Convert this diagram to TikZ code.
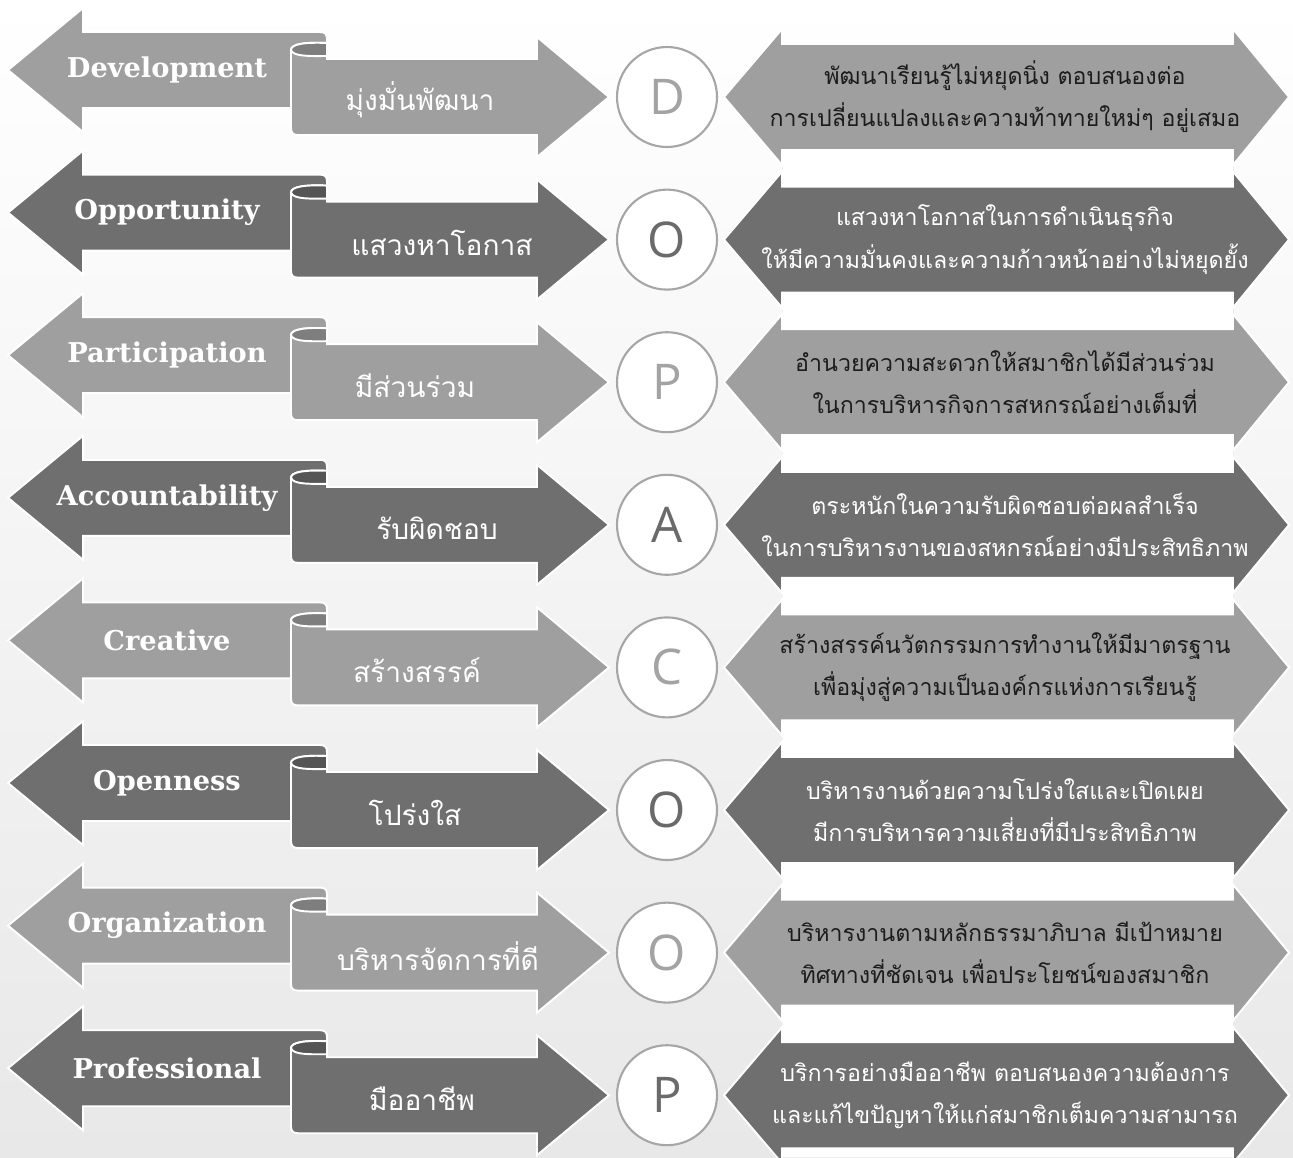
\documentclass[tikz,border=0pt]{standalone}
\usepackage{fontspec}
\newfontfamily\thaifont[Script=Thai]{Loma}
\newfontfamily\engfont{DejaVu Serif}
\newfontfamily\letterfont{Open Sans}
\definecolor{fillL}{HTML}{9F9F9F}
\definecolor{fillD}{HTML}{6F6F6F}
\definecolor{foldL}{HTML}{7E7E7E}
\definecolor{foldD}{HTML}{555555}
\definecolor{letterL}{HTML}{A3A3A3}
\definecolor{letterD}{HTML}{6A6A6A}
\definecolor{hextL}{HTML}{1C1C1C}
\definecolor{hextD}{HTML}{FFFFFF}
\definecolor{ring}{HTML}{A6A6A6}
\definecolor{bgbot}{HTML}{E8E8E8}

\begin{document}
\begin{tikzpicture}[
	x=0.02cm, y=-0.02cm,
	edge/.style={draw=white, line width=1.1pt},
	engword/.style={text=white, font=\engfont\bfseries\fontsize{15.5}{18}\selectfont},
	thaiword/.style={text=white, font=\thaifont\fontsize{16}{20}\selectfont},
	hextext/.style={align=center, font=\thaifont\fontsize{13.2}{24}\selectfont},
	disc/.style={circle, draw=ring, line width=1.2pt, fill=white, inner sep=0pt,
		minimum size=2cm, font=\letterfont\fontsize{28}{30}\selectfont}
	]
	\useasboundingbox (0,0) rectangle (1293,1157);
	\shade[top color=white, bottom color=bgbot] (0,0) rectangle (1293,1157);
	
	% white strips between the long arrows
	\foreach \i in {1,...,8} {
		\pgfmathsetmacro\yc{97+142.6*(\i-1)}
		\fill[white, draw=gray!15] (782,\yc+53) rectangle (1233,{min(\yc+89.6,1157)});
	}
	
	\foreach \i/\eword/\tword/\tpos/\letr/\lineA/\lineB/\tone in {
		1/Development/{มุ่งมั่นพัฒนา}/420/D/{พัฒนาเรียนรู้ไม่หยุดนิ่ง ตอบสนองต่อ}/{การเปลี่ยนแปลงและความท้าทายใหม่ๆ อยู่เสมอ}/L,
		2/Opportunity/{แสวงหาโอกาส}/442/O/{แสวงหาโอกาสในการดำเนินธุรกิจ}/{ให้มีความมั่นคงและความก้าวหน้าอย่างไม่หยุดยั้ง}/D,
		3/Participation/{มีส่วนร่วม}/415/P/{อำนวยความสะดวกให้สมาชิกได้มีส่วนร่วม}/{ในการบริหารกิจการสหกรณ์อย่างเต็มที่}/L,
		4/Accountability/{รับผิดชอบ}/437/A/{ตระหนักในความรับผิดชอบต่อผลสำเร็จ}/{ในการบริหารงานของสหกรณ์อย่างมีประสิทธิภาพ}/D,
		5/Creative/{สร้างสรรค์}/417/C/{สร้างสรรค์นวัตกรรมการทำงานให้มีมาตรฐาน}/{เพื่อมุ่งสู่ความเป็นองค์กรแห่งการเรียนรู้}/L,
		6/Openness/{โปร่งใส}/415/O/{บริหารงานด้วยความโปร่งใสและเปิดเผย}/{มีการบริหารความเสี่ยงที่มีประสิทธิภาพ}/D,
		7/Organization/{บริหารจัดการที่ดี}/438/O/{บริหารงานตามหลักธรรมาภิบาล มีเป้าหมาย}/{ทิศทางที่ชัดเจน เพื่อประโยชน์ของสมาชิก}/L,
		8/Professional/{มืออาชีพ}/422/P/{บริการอย่างมืออาชีพ ตอบสนองความต้องการ}/{และแก้ไขปัญหาให้แก่สมาชิกเต็มความสามารถ}/D} {
		\pgfmathsetmacro\yc{97+142.6*(\i-1)}
		\pgfmathsetmacro\yl{\yc-27}
		% left arrow
		\filldraw[edge, fill=fill\tone] (8,\yl) -- (83,\yl-62) -- (83,\yl-38) -- (320,\yl-38)
			.. controls (325,\yl-38) and (327,\yl-36) .. (327,\yl-31) -- (327,\yl+38)
			-- (83,\yl+38) -- (83,\yl+62) -- cycle;
		% ribbon with the rolled end
		\filldraw[edge, fill=fill\tone] (291,\yc-47) .. controls (291,\yc-53) and (305,\yc-55) .. (327,\yc-54)
			-- (327,\yc-38) -- (537,\yc-38) -- (537,\yc-60) -- (609,\yc) -- (537,\yc+60) -- (537,\yc+38)
			-- (298,\yc+38) .. controls (293,\yc+38) and (291,\yc+36) .. (291,\yc+31) -- cycle;
		\filldraw[edge, fill=fold\tone] (291,\yc-47) .. controls (291,\yc-53) and (305,\yc-55) .. (327,\yc-54)
			-- (327,\yc-41) .. controls (312,\yc-41) and (293,\yc-40) .. (291,\yc-47) -- cycle;
		% long double arrow
		\filldraw[edge, fill=fill\tone] (724,\yc) -- (782,\yc-68) -- (782,\yc-53) -- (1233,\yc-53)
			-- (1233,\yc-68) -- (1289,\yc) -- (1233,\yc+68) -- (1233,\yc+53) -- (782,\yc+53)
			-- (782,\yc+68) -- cycle;
		
		\node[disc, text=letter\tone] (c\i) at (667,\yc) {\letr};
		\node[engword] (e\i) at (167,\yl) {\eword};
		\node[thaiword] (t\i) at (\tpos,\yc+3) {\tword};
		\node[hextext, text=hext\tone] (h\i) at (1005,\yc) {\lineA\\\lineB};
	}
\end{tikzpicture}
\end{document}
